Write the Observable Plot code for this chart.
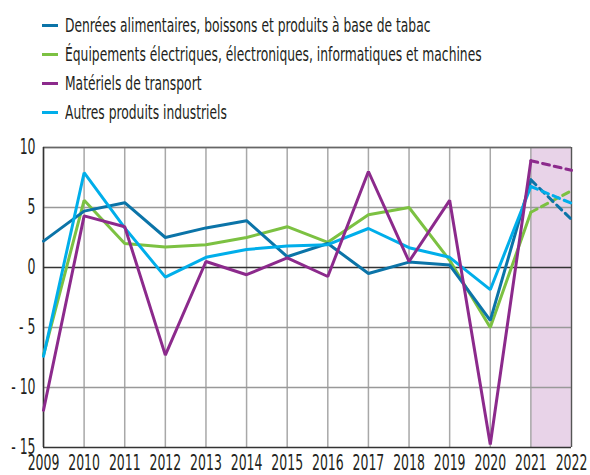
<!DOCTYPE html>
<html><head><meta charset="utf-8">
<script src="https://cdn.jsdelivr.net/npm/d3@7"></script>
<script src="https://cdn.jsdelivr.net/npm/@observablehq/plot@0.6"></script>
<style>
body{margin:0;background:#fff;font-family:"DejaVu Sans Condensed","DejaVu Sans",sans-serif;}
#legend{position:relative;height:127px;width:590px;overflow:hidden;}
.item{position:absolute;left:42px;display:flex;align-items:center;font-size:19px;color:#231f20;line-height:22px;white-space:nowrap;}
.sw{width:16px;height:3px;margin-right:7px;flex:none;}
.lab{display:inline-block;transform:scaleX(0.72);transform-origin:left center;}
#chart svg{display:block;}
</style></head><body>
<div id="legend"></div><div id="chart"></div>
<script>
const years = [2009,2010,2011,2012,2013,2014,2015,2016,2017,2018,2019,2020,2021,2022];
const seriesNames = [
  "Denrées alimentaires, boissons et produits à base de tabac",
  "Équipements électriques, électroniques, informatiques et machines",
  "Matériels de transport",
  "Autres produits industriels"
];
const seriesColors = ["#0b74a8", "#7cc142", "#8c2a8c", "#00aeea"];
const denrees    = [2.2, 4.7, 5.4, 2.5, 3.3, 3.9, 0.9, 2.0, -0.5, 0.45, 0.2, -4.4, 7.3, 4.0];
const equipements= [-7.3, 5.6, 2.0, 1.7, 1.9, 2.5, 3.4, 2.1, 4.4, 5.0, 0.6, -5.0, 4.6, 6.4];
const materiels  = [-11.9, 4.3, 3.4, -7.3, 0.5, -0.6, 0.8, -0.75, 8.0, 0.5, 5.6, -14.75, 8.9, 8.1];
const autres     = [-7.4, 7.9, 3.3, -0.8, 0.85, 1.5, 1.8, 1.9, 3.25, 1.65, 0.85, -1.85, 6.75, 5.35];
const yTicks = [-15, -10, -5, 0, 5, 10];
const forecastStart = 2021;

const allValues = [denrees, equipements, materiels, autres];
const rows = [];
allValues.forEach((vals, s) => {
  years.forEach((yr, i) => {
    if (yr <= forecastStart) rows.push({series: s, year: yr, value: vals[i], part: "obs"});
    if (yr >= forecastStart) rows.push({series: s, year: yr, value: vals[i], part: "prev"});
  });
});

// legend
const leg = document.getElementById("legend");
seriesNames.forEach((n, i) => {
  const d = document.createElement("div");
  d.className = "item";
  d.style.top = (14 + i * 29) + "px";
  d.innerHTML = `<span class="sw" style="background:${seriesColors[i]}"></span><span class="lab">${n}</span>`;
  leg.appendChild(d);
});

const drawOrder = [1, 0, 3, 2];
const lineMarks = [];
drawOrder.forEach(s => {
  lineMarks.push(Plot.line(rows.filter(r => r.series === s && r.part === "obs"),
    {x: "year", y: "value", stroke: seriesColors[s], strokeWidth: 3, strokeLinejoin: "miter"}));
  lineMarks.push(Plot.line(rows.filter(r => r.series === s && r.part === "prev"),
    {x: "year", y: "value", stroke: seriesColors[s], strokeWidth: 3, strokeDasharray: "7,5"}));
});

const chart = Plot.plot({
  width: 590,
  height: 348,
  marginTop: 20,
  marginBottom: 28,
  marginLeft: 43,
  marginRight: 19,
  style: {fontFamily: '"DejaVu Sans Condensed","DejaVu Sans",sans-serif', fontSize: "21px", color: "#231f20", background: "#fff", overflow: "visible"},
  x: {domain: [2009, 2022], label: null},
  y: {domain: [-15, 10], label: null},
  marks: [
    Plot.rect([{x1: forecastStart, x2: 2022}], {x1: "x1", x2: "x2", y1: -15, y2: 10, fill: "#e8d3e8"}),
    Plot.gridX(years, {stroke: "#a8a8a8", strokeOpacity: 1, strokeWidth: 1.5}),
    Plot.gridY(yTicks.filter(t => t !== 0 && t !== -15), {stroke: "#999", strokeOpacity: 1, strokeWidth: 1.5}),
    Plot.ruleY([0], {stroke: "#333", strokeWidth: 1.3}),
    Plot.ruleY([10], {stroke: "#666", strokeWidth: 1.5}),
    Plot.ruleY([-15], {stroke: "#333", strokeWidth: 1.5}),
    Plot.ruleX([2009], {stroke: "#333", strokeWidth: 1.5}),
    Plot.ruleX([2022], {stroke: "#555", strokeWidth: 1.2}),
    Plot.axisX({ticks: years, tickFormat: d => String(d), tickSize: 0, tickPadding: 8}),
    Plot.axisY({ticks: yTicks, tickFormat: d => d < 0 ? "- " + Math.abs(d) : String(d), tickSize: 0, tickPadding: 8}),
    ...lineMarks
  ]
});
// condense axis tick labels horizontally
d3.select(chart).selectAll('g[aria-label="x-axis tick label"] text, g[aria-label="y-axis tick label"] text')
  .each(function() {
    let t = this.getAttribute("transform");
    if (!t) {
      const x = this.getAttribute("x") || 0, y = this.getAttribute("y") || 0;
      t = `translate(${x},${y})`;
      this.removeAttribute("x");
    }
    this.setAttribute("transform", t + " scale(0.66,1)");
  });
document.getElementById("chart").appendChild(chart);
</script>
</body></html>
